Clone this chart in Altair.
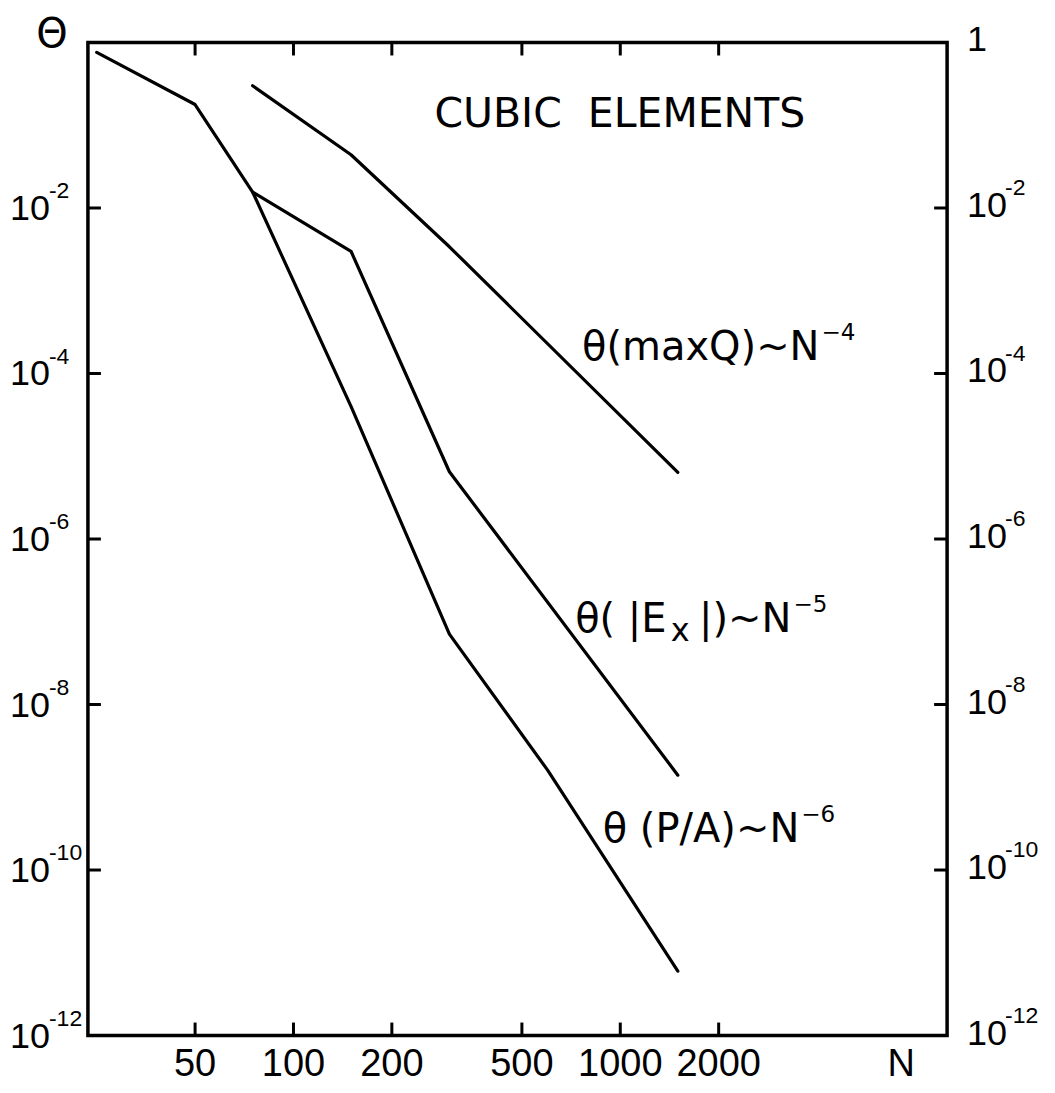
import altair as alt
import pandas as pd

# ---------------- data ----------------
N_PA = [25, 50, 75, 150, 300, 600, 1500]
TH_PA = [0.76, 0.178, 0.0156, 4.0e-5, 7.1e-8, 1.6e-9, 6.0e-12]

N_EX = [75, 150, 300, 1500]
TH_EX = [0.0156, 0.0030, 6.5e-6, 1.4e-9]

N_Q = [75, 150, 300, 1500]
TH_Q = [0.30, 0.044, 0.0034, 6.4e-6]

X_TICKS = [50, 100, 200, 500, 1000, 2000]
X_TICK_LABELS = ["50", "100", "200", "500", "1000", "2000"]

Y_TICKS = [1e-2, 1e-4, 1e-6, 1e-8, 1e-10]
Y_LABEL_VALUES = [1, 1e-2, 1e-4, 1e-6, 1e-8, 1e-10, 1e-12]
Y_LABEL_BASES = ["1", "10", "10", "10", "10", "10", "10"]
Y_LABEL_EXPS = ["", "-2", "-4", "-6", "-8", "-10", "-12"]

# curve annotations: anchor = right end of the main text
CURVE_LABEL_N = [4070, 3340, 3530]
CURVE_LABEL_TH = [1.44e-4, 7.5e-8, 2.18e-10]
CURVE_LABEL_MAIN = ["\u03b8(maxQ)~N", "|)~N", "\u03b8\u00a0(P/A)~N"]
CURVE_LABEL_SUP = ["\u22124", "\u22125", "\u22126"]

EX_LABEL_N = [3340]
EX_LABEL_TH = [7.5e-8]
EX_LABEL_HEAD = ["\u03b8(\u00a0|E"]
EX_LABEL_SUB = ["x"]

TITLE_N = [270]
TITLE_TH = [0.094]
TITLE_TEXT = ["CUBIC\u00a0\u00a0ELEMENTS"]

Y_TITLE = ["\u0398"]
X_TITLE = ["N"]

# ---------------- chart ----------------
W, H = 860, 994
FONT = "DejaVu Sans"
NUMFONT = "Liberation Sans"

xs = alt.Scale(type="log", domain=[23.5, 10000], nice=False)
ys = alt.Scale(type="log", domain=[1e-12, 1], nice=False)

lines_df = pd.DataFrame({
    "N": N_PA + N_EX + N_Q,
    "theta": TH_PA + TH_EX + TH_Q,
    "series": ["P/A"] * len(N_PA) + ["Ex"] * len(N_EX) + ["maxQ"] * len(N_Q),
})

X = lambda: alt.X("N:Q", scale=xs, axis=None)
Y = lambda: alt.Y("theta:Q", scale=ys, axis=None)

lines = alt.Chart(lines_df).mark_line(
    color="black", strokeWidth=3.2, strokeCap="round", strokeJoin="round"
).encode(x=X(), y=Y(), detail="series:N")

xt_df = pd.DataFrame({"N": X_TICKS, "label": X_TICK_LABELS})
top_ticks = alt.Chart(xt_df).mark_rule(color="black", strokeWidth=3).encode(
    x=X(), y=alt.value(0), y2=alt.value(13))
bottom_ticks = alt.Chart(xt_df).mark_rule(color="black", strokeWidth=3).encode(
    x=X(), y=alt.value(H), y2=alt.value(H - 13))
x_labels = alt.Chart(xt_df).mark_text(
    font=NUMFONT, fontSize=38, align="center", baseline="middle", color="black"
).encode(x=X(), y=alt.value(H + 30), text="label:N")

yt_df = pd.DataFrame({"theta": Y_TICKS})
left_ticks = alt.Chart(yt_df).mark_rule(color="black", strokeWidth=3).encode(
    y=Y(), x=alt.value(0), x2=alt.value(13))
right_ticks = alt.Chart(yt_df).mark_rule(color="black", strokeWidth=3).encode(
    y=Y(), x=alt.value(W), x2=alt.value(W - 13))

yl_df = pd.DataFrame({"theta": Y_LABEL_VALUES, "base": Y_LABEL_BASES, "exp": Y_LABEL_EXPS})
yl_left = alt.Chart(yl_df).transform_filter("datum.theta < 0.5")
left_base = yl_left.mark_text(
    font=NUMFONT, fontSize=36, align="right", baseline="middle", dy=1, color="black"
).encode(y=Y(), x=alt.value(-38), text="base:N")
left_exp = yl_left.mark_text(
    font=NUMFONT, fontSize=23, align="left", baseline="middle", dy=-17, color="black"
).encode(y=Y(), x=alt.value(-39), text="exp:N")
right_base = alt.Chart(yl_df).mark_text(
    font=NUMFONT, fontSize=36, align="left", baseline="middle", dy=-2, color="black"
).encode(y=Y(), x=alt.value(W + 20), text="base:N")
right_exp = alt.Chart(yl_df).mark_text(
    font=NUMFONT, fontSize=23, align="left", baseline="middle", dy=-20, color="black"
).encode(y=Y(), x=alt.value(W + 58), text="exp:N")

y_title = alt.Chart(pd.DataFrame({"t": Y_TITLE})).mark_text(
    font=FONT, fontSize=40, align="center", baseline="middle", color="black"
).encode(x=alt.value(-36), y=alt.value(-7), text="t:N")
x_title = alt.Chart(pd.DataFrame({"t": X_TITLE})).mark_text(
    font=NUMFONT, fontSize=38, align="center", baseline="middle", color="black"
).encode(x=alt.value(814), y=alt.value(H + 30), text="t:N")

cl_df = pd.DataFrame({"N": CURVE_LABEL_N, "theta": CURVE_LABEL_TH,
                      "main": CURVE_LABEL_MAIN, "sup": CURVE_LABEL_SUP})
cl_main = alt.Chart(cl_df).mark_text(
    font=FONT, fontSize=40, align="right", baseline="alphabetic", color="black"
).encode(x=X(), y=Y(), text="main:N")
cl_sup = alt.Chart(cl_df).mark_text(
    font=FONT, fontSize=23, align="left", baseline="alphabetic", dx=2, dy=-20, color="black"
).encode(x=X(), y=Y(), text="sup:N")

ex_df = pd.DataFrame({"N": EX_LABEL_N, "theta": EX_LABEL_TH,
                      "head": EX_LABEL_HEAD, "sub": EX_LABEL_SUB})
ex_sub = alt.Chart(ex_df).mark_text(
    font=FONT, fontSize=32, align="right", baseline="alphabetic", dx=-102, dy=9, color="black"
).encode(x=X(), y=Y(), text="sub:N")
ex_head = alt.Chart(ex_df).mark_text(
    font=FONT, fontSize=40, align="right", baseline="alphabetic", dx=-125, color="black"
).encode(x=X(), y=Y(), text="head:N")

title_df = pd.DataFrame({"N": TITLE_N, "theta": TITLE_TH, "t": TITLE_TEXT})
title = alt.Chart(title_df).mark_text(
    font=FONT, fontSize=41, align="left", baseline="alphabetic", color="black"
).encode(x=X(), y=Y(), text="t:N")

chart = alt.layer(
    lines, top_ticks, bottom_ticks, left_ticks, right_ticks,
    x_labels, left_base, left_exp, right_base, right_exp,
    y_title, x_title, cl_main, cl_sup, ex_sub, ex_head, title,
).properties(
    width=W, height=H,
    autosize=alt.AutoSizeParams(type="none"),
    padding={"left": 80, "top": 34, "right": 100, "bottom": 50},
    background="white",
).configure_view(stroke="black", strokeWidth=3.5)

chart.save("out.html", embed_options={"renderer": "svg", "actions": False})
